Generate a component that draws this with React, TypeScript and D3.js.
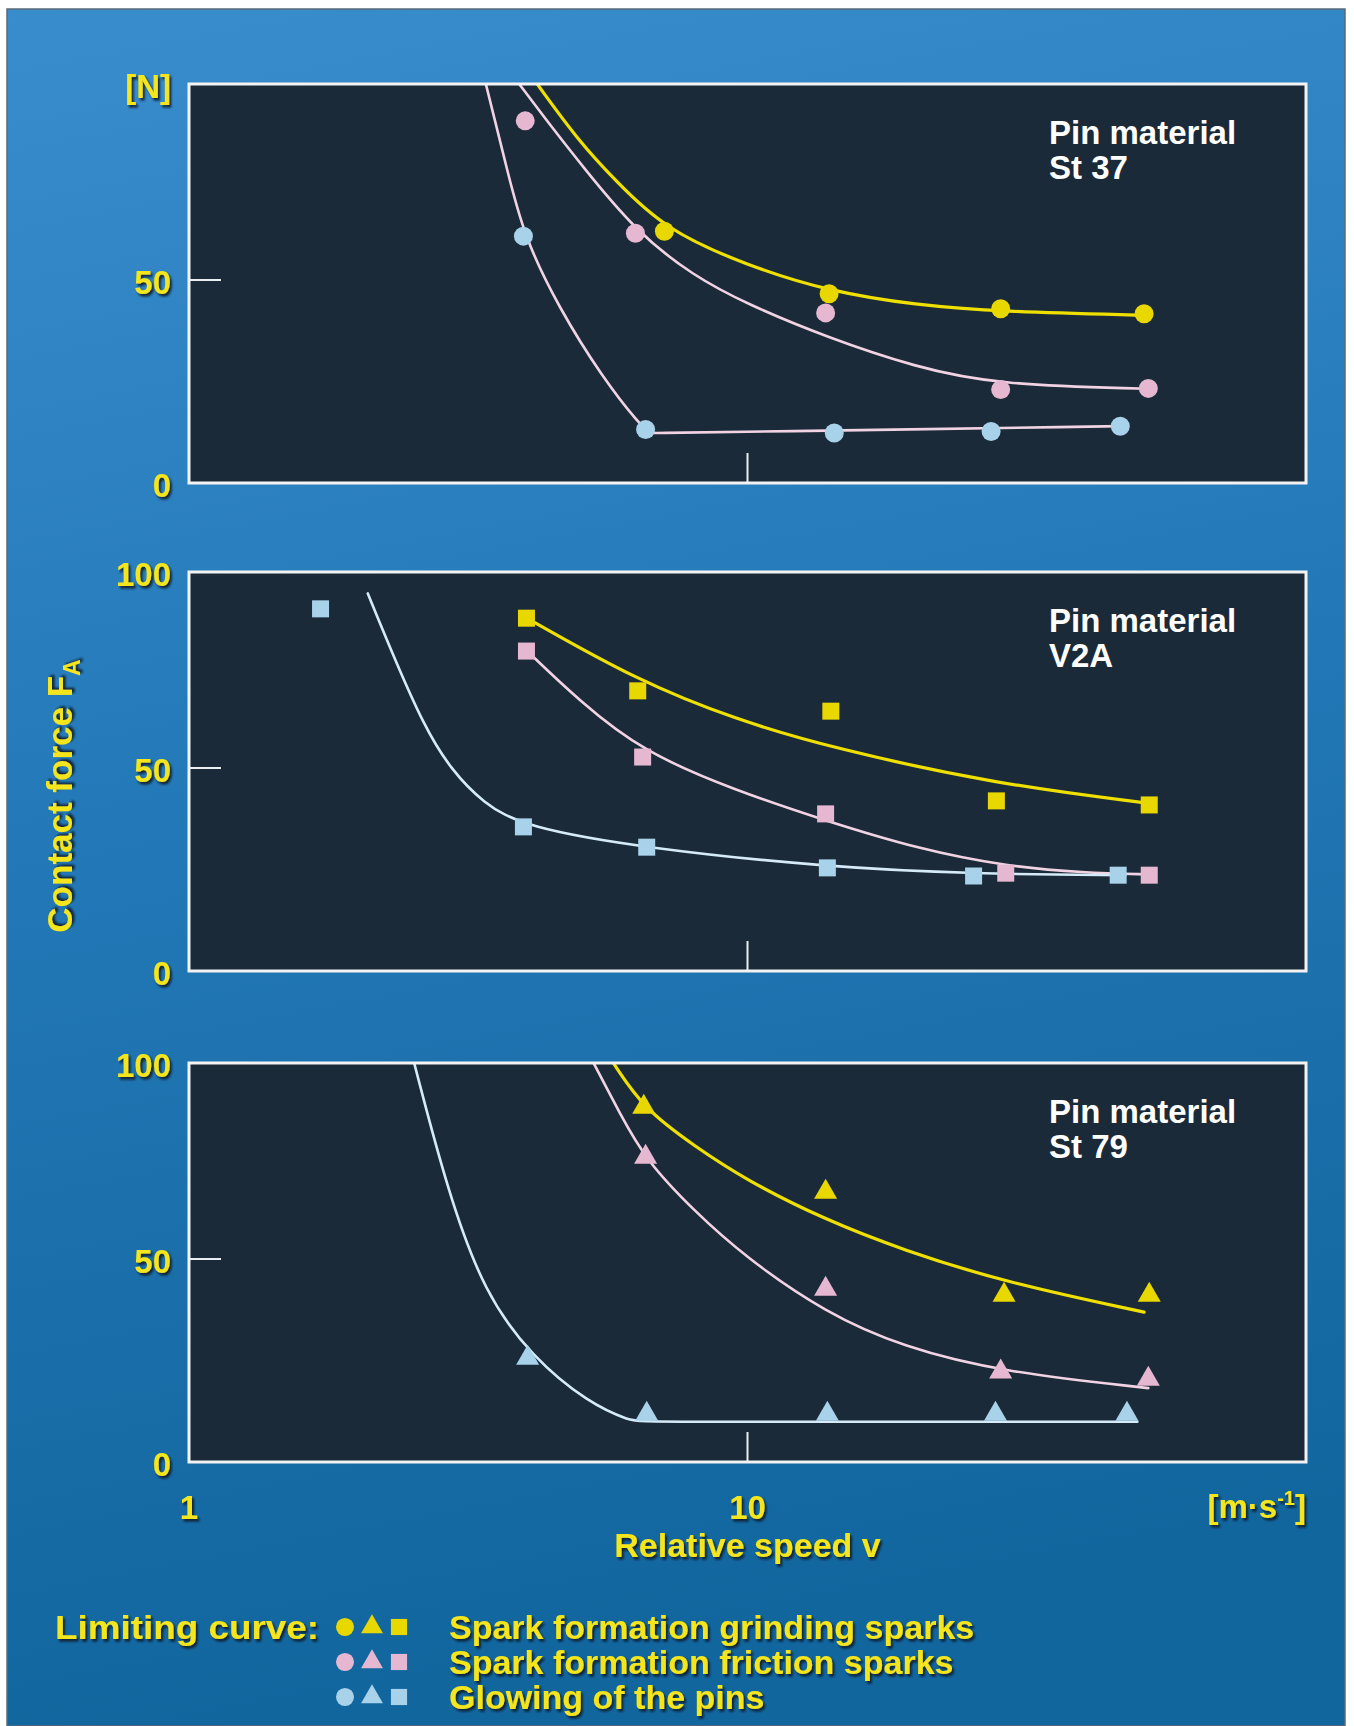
import React from "react";
import * as d3 from "d3";

type P = [number, number];

// ---------- data ----------
const materials = ["St 37", "V2A", "St 79"];
const seriesLabels = [
  "Spark formation grinding sparks",
  "Spark formation friction sparks",
  "Glowing of the pins",
];
const speedTickLabels = [1, 10];
const forceTickLabels = [0, 50, 100];
const innerForceTicks = [50];
const innerSpeedTicks = [10];

// measured points  [speed m/s, force N]
const st37Grinding: P[] = [[7.1, 62.0], [14.0, 46.6], [28.4, 42.9], [51.3, 41.7]];
const st37Friction: P[] = [[4.0, 89.2], [6.3, 61.5], [13.8, 41.9], [28.4, 23.0], [52.2, 23.3]];
const st37Glowing: P[] = [[3.97, 60.8], [6.57, 13.2], [14.3, 12.3], [27.3, 12.7], [46.5, 14.0]];

const v2aGrinding: P[] = [[4.02, 86.9], [6.36, 69.0], [14.1, 64.0], [27.9, 41.9], [52.4, 40.9]];
const v2aFriction: P[] = [[4.02, 78.8], [6.49, 52.7], [13.8, 38.7], [29.0, 24.1], [52.4, 23.6]];
const v2aGlowing: P[] = [[1.72, 89.2], [3.97, 35.5], [6.6, 30.5], [13.9, 25.4], [25.4, 23.4], [46.1, 23.6]];

const st79Grinding: P[] = [[6.52, 87.4], [13.8, 66.5], [28.8, 41.1], [52.4, 41.1]];
const st79Friction: P[] = [[6.57, 75.1], [13.8, 42.6], [28.4, 22.2], [52.2, 20.4]];
const st79Glowing: P[] = [[4.04, 25.6], [6.6, 11.8], [13.9, 11.8], [27.8, 11.8], [47.8, 11.8]];

// limiting curves (control points)
const st37GrindingCurve: P[] = [[4.2, 98.3], [5.0, 84], [5.8, 74.5], [7.1, 62.5], [10, 53.5], [14, 47.2], [20, 43.8], [28.4, 42.2], [51.3, 41.3]];
const st37FrictionCurve: P[] = [[3.9, 98.3], [4.5, 87], [5.0, 79], [6.3, 62], [8, 51], [10, 44], [13.8, 36], [20, 28.5], [28, 24.2], [52.2, 23.2]];
const st37GlowingCurve: P[] = [[3.4, 98.3], [3.7, 78], [3.97, 61], [4.6, 43], [5.5, 26], [6.4, 14.5], [6.7, 12.3], [6.7, 12.3], [10, 12.6], [46.5, 14.0]];

const v2aGrindingCurve: P[] = [[4.02, 87], [6.36, 71.5], [9.5, 62], [14.1, 55], [27.9, 46], [52.4, 41.3]];
const v2aFrictionCurve: P[] = [[4.02, 79], [5, 66.5], [6.49, 54], [9.5, 44.5], [13.8, 37], [20.3, 30], [29, 25.8], [40, 24.2], [52.4, 23.8]];
const v2aGlowingCurve: P[] = [[2.09, 93], [2.3, 79], [2.64, 60], [2.95, 49.5], [3.36, 41.4], [3.97, 35.5], [6.6, 30.2], [13.9, 25.6], [25.4, 23.9], [47.5, 23.6]];

const st79GrindingCurve: P[] = [[5.75, 98.3], [6.52, 87], [8, 78], [9.92, 69.5], [13.8, 59.6], [19.0, 52.2], [28.8, 44.3], [51.3, 36.9]];
const st79FrictionCurve: P[] = [[5.3, 98.3], [5.9, 86], [6.57, 74.4], [8, 62], [9.9, 50.5], [13.8, 36.7], [19.0, 28.3], [28.5, 22.2], [52.2, 18.2]];
const st79GlowingCurve: P[] = [[2.53, 98.3], [2.91, 66.3], [3.38, 41.6], [4.11, 25.9], [5.19, 14.5], [6.2, 10], [6.5, 9.9], [49.9, 9.9]];

// ---------- layout & style ----------
const W = 1354;
const H = 1726;
const LEFT = 189;
const RIGHT = 1306;
const PANEL_H = 399;
const PX_PER_100 = 406;
const panelBottoms = [483, 971, 1462];
const FONT = "'Liberation Sans', Arial, Helvetica, sans-serif";
const YELLOW_TEXT = "#f4e51c";

const markerColors = ["#e9d700", "#e6b7d1", "#a8d1ea"];
const lineColors = ["#efe000", "#f1d3e4", "#d5ecf8"];
const lineWidths = [3.2, 2.6, 2.6];
const shapes = ["circle", "square", "triangle"];
const legendShapes = ["circle", "triangle", "square"];

const panels = [
  {
    name: materials[0],
    shape: shapes[0],
    points: [st37Grinding, st37Friction, st37Glowing],
    curves: [st37GrindingCurve, st37FrictionCurve, st37GlowingCurve],
    curveColors: [lineColors[0], lineColors[1], lineColors[1]],
    topLabel: "[N]",
  },
  {
    name: materials[1],
    shape: shapes[1],
    points: [v2aGrinding, v2aFriction, v2aGlowing],
    curves: [v2aGrindingCurve, v2aFrictionCurve, v2aGlowingCurve],
    curveColors: lineColors,
    topLabel: String(forceTickLabels[2]),
  },
  {
    name: materials[2],
    shape: shapes[2],
    points: [st79Grinding, st79Friction, st79Glowing],
    curves: [st79GrindingCurve, st79FrictionCurve, st79GlowingCurve],
    curveColors: lineColors,
    topLabel: String(forceTickLabels[2]),
  },
];

const x = d3.scaleLog().domain([1, 100]).range([LEFT, RIGHT]);

function Marker({ shape, cx, cy, color, s = 1 }: { shape: string; cx: number; cy: number; color: string; s?: number }) {
  if (shape === "circle") return <circle cx={cx} cy={cy} r={9.5 * s} fill={color} />;
  if (shape === "square")
    return <rect x={cx - 8.5 * s} y={cy - 8.5 * s} width={17 * s} height={17 * s} fill={color} />;
  const d = d3.symbol(d3.symbolTriangle, 230 * s * s)() as string;
  return <path d={d} transform={`translate(${cx},${cy})`} fill={color} />;
}

function YText(props: any) {
  const { children, ...rest } = props;
  return (
    <text
      fontFamily={FONT}
      fontWeight="bold"
      fontSize={33}
      fill={YELLOW_TEXT}
      filter="url(#tshadow)"
      {...rest}
    >
      {children}
    </text>
  );
}

export default function App() {
  return (
    <svg
      width={W}
      height={H}
      style={{ position: "absolute", left: 0, top: 0, display: "block" }}
    >
      <defs>
        <linearGradient id="bg" x1="0" y1="0" x2="0.15" y2="1">
          <stop offset="0" stopColor="#3a8dcd" />
          <stop offset="0.5" stopColor="#2278b6" />
          <stop offset="1" stopColor="#12669e" />
        </linearGradient>
        <filter id="tshadow" x="-10%" y="-20%" width="130%" height="160%">
          <feDropShadow dx="2" dy="2.5" stdDeviation="0.9" floodColor="#0a1824" floodOpacity="0.9" />
        </filter>
        {panelBottoms.map((b, i) => (
          <clipPath id={`clip${i}`} key={i}>
            <rect x={LEFT} y={b - PANEL_H} width={RIGHT - LEFT} height={PANEL_H} />
          </clipPath>
        ))}
      </defs>

      <rect x={0} y={0} width={W} height={H} fill="#ffffff" />
      <rect x={7} y={9} width={1338} height={H - 9} fill="url(#bg)" stroke="#5a6b78" strokeWidth={1.5} />

      {panels.map((p, i) => {
        const bottom = panelBottoms[i];
        const top = bottom - PANEL_H;
        const y = d3.scaleLinear().domain([0, 100]).range([bottom, bottom - PX_PER_100]);
        const line = d3
          .line<P>()
          .x((d) => x(d[0]))
          .y((d) => y(d[1]))
          .curve(d3.curveBasis);
        return (
          <g key={i}>
            <rect x={LEFT} y={top} width={RIGHT - LEFT} height={PANEL_H} fill="#1a2a38" />
            {innerForceTicks.map((t) => (
              <line key={t} x1={LEFT} x2={LEFT + 32} y1={y(t)} y2={y(t)} stroke="#e8eef2" strokeWidth={2} />
            ))}
            {innerSpeedTicks.map((t) => (
              <line key={t} x1={x(t)} x2={x(t)} y1={bottom} y2={bottom - 30} stroke="#e8eef2" strokeWidth={2} />
            ))}
            <g clipPath={`url(#clip${i})`}>
              {p.curves.map((c, k) => (
                <path
                  key={k}
                  d={line(c) as string}
                  fill="none"
                  stroke={p.curveColors[k]}
                  strokeWidth={lineWidths[k]}
                  strokeLinecap="round"
                />
              ))}
              {p.points.map((pts, k) =>
                pts.map((d, j) => (
                  <Marker key={`${k}-${j}`} shape={p.shape} cx={x(d[0])} cy={y(d[1])} color={markerColors[k]} />
                ))
              )}
            </g>
            <rect x={LEFT} y={top} width={RIGHT - LEFT} height={PANEL_H} fill="none" stroke="#f3f3f3" strokeWidth={3} />

            {/* y tick labels */}
            {forceTickLabels.map((t) => {
              const label = t === 100 ? p.topLabel : String(t);
              const ty = Math.max(y(t), top) + 2;
              return (
                <YText key={t} x={171} y={ty} textAnchor="end" dominantBaseline="central">
                  {label}
                </YText>
              );
            })}

            {/* material label */}
            <text x={1049} y={top + 60} fontFamily={FONT} fontWeight="bold" fontSize={33} fill="#ffffff">
              <tspan x={1049} y={top + 60}>Pin material</tspan>
              <tspan x={1049} y={top + 95}>{p.name}</tspan>
            </text>
          </g>
        );
      })}

      {/* x axis labels */}
      {speedTickLabels.map((t) => (
        <YText key={t} x={x(t)} y={1507} textAnchor="middle" dominantBaseline="central">
          {String(t)}
        </YText>
      ))}
      <YText x={RIGHT} y={1518} textAnchor="end">
        [m·s
        <tspan dy={-13} fontSize={20}>
          -1
        </tspan>
        <tspan dy={13}>]</tspan>
      </YText>
      <YText x={x(10)} y={1557} textAnchor="middle" fontSize={34}>
        Relative speed v
      </YText>

      {/* y axis title */}
      <YText transform="translate(72,796) rotate(-90)" textAnchor="middle" fontSize={35}>
        Contact force F
        <tspan dy={8} fontSize={23}>
          A
        </tspan>
      </YText>

      {/* legend */}
      <YText x={55} y={1639} fontSize={34} textLength={264} lengthAdjust="spacingAndGlyphs">
        Limiting curve:
      </YText>
      {seriesLabels.map((s, k) => {
        const cy = 1627 + k * 35;
        return (
          <g key={s}>
            {legendShapes.map((sh, m) => (
              <Marker key={sh} shape={sh} cx={345 + m * 27} cy={cy} color={markerColors[k]} s={0.95} />
            ))}
            <YText x={449} y={cy + 12} fontSize={34}>
              {s}
            </YText>
          </g>
        );
      })}
    </svg>
  );
}
